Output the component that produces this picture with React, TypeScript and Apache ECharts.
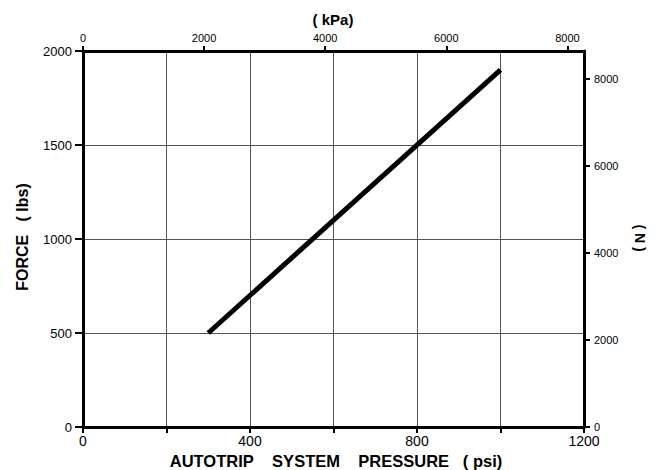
import React, { useEffect, useRef } from "react";
import * as echarts from "echarts";

// Data
const pressurePsi = [300, 1000];
const forceLbs = [500, 1900];

const psiRange = [0, 1200];
const psiTickStep = 200;
const psiLabelStep = 400;
const forceRange = [0, 2000];
const forceTickStep = 500;
const kpaRange = [0, 8274];
const kpaTickStep = 2000;
const newtonRange = [0, 8640];
const newtonTickStep = 2000;

const FONT = "'Liberation Sans', Arial, sans-serif";
const SP = "\u00A0";

export default function App() {
  const ref = useRef<HTMLDivElement>(null);
  useEffect(() => {
    if (!ref.current) return;
    const chart = echarts.init(ref.current, null, { renderer: "svg" });
    const axisLine = { show: true, onZero: false, lineStyle: { color: "#000", width: 3 } };
    const tick = { show: true, length: 6, lineStyle: { color: "#000", width: 2 } };
    chart.setOption({
      animation: false,
      backgroundColor: "#fff",
      grid: { left: 83, top: 51, right: 71, bottom: 43, containLabel: false },
      xAxis: [
        {
          type: "value",
          position: "bottom",
          min: psiRange[0],
          max: psiRange[1],
          interval: psiTickStep,
          axisLine,
          axisTick: tick,
          splitLine: { show: true, lineStyle: { color: "#555", width: 1 } },
          axisLabel: {
            margin: 7,
            fontFamily: FONT,
            fontSize: 14,
            color: "#000",
            formatter: (v: number) => (v % psiLabelStep === 0 ? String(v) : ""),
          },
        },
        {
          type: "value",
          position: "top",
          min: kpaRange[0],
          max: kpaRange[1],
          interval: kpaTickStep,
          axisLine,
          axisTick: { ...tick, length: 5 },
          splitLine: { show: false },
          axisLabel: {
            margin: 8,
            fontFamily: FONT,
            fontSize: 11,
            color: "#000",
            showMaxLabel: false,
            formatter: (v: number) => (v % kpaTickStep === 0 ? String(v) : ""),
          },
        },
      ],
      yAxis: [
        {
          type: "value",
          position: "left",
          min: forceRange[0],
          max: forceRange[1],
          interval: forceTickStep,
          axisLine,
          axisTick: { ...tick, length: 8 },
          splitLine: { show: true, lineStyle: { color: "#555", width: 1 } },
          axisLabel: {
            margin: 11,
            fontFamily: FONT,
            fontSize: 13,
            color: "#000",
            formatter: (v: number) => String(v),
          },
        },
        {
          type: "value",
          position: "right",
          min: newtonRange[0],
          max: newtonRange[1],
          interval: newtonTickStep,
          axisLine,
          axisTick: tick,
          splitLine: { show: false },
          axisLabel: {
            margin: 10,
            fontFamily: FONT,
            fontSize: 11,
            color: "#000",
            showMaxLabel: false,
            formatter: (v: number) => (v % newtonTickStep === 0 ? String(v) : ""),
          },
        },
      ],
      series: [
        {
          type: "line",
          xAxisIndex: 0,
          yAxisIndex: 0,
          data: pressurePsi.map((p, i) => [p, forceLbs[i]]),
          symbol: "none",
          lineStyle: { color: "#000", width: 5, cap: "butt" },
        },
      ],
      graphic: [
        {
          type: "text",
          x: 336,
          y: 461,
          style: {
            text: `AUTOTRIP${SP}${SP}${SP} SYSTEM${SP}${SP}${SP} PRESSURE${SP}${SP} (${SP}psi)`,
            font: `bold 16.5px ${FONT}`,
            fill: "#000",
            align: "center",
            verticalAlign: "middle",
          },
        },
        {
          type: "text",
          x: 22,
          y: 237,
          rotation: Math.PI / 2,
          style: {
            text: `FORCE${SP}${SP} (${SP}lbs)`,
            font: `bold 16px ${FONT}`,
            fill: "#000",
            align: "center",
            verticalAlign: "middle",
          },
        },
        {
          type: "text",
          x: 333,
          y: 19,
          style: {
            text: `(${SP}kPa)`,
            font: `bold 15px ${FONT}`,
            fill: "#000",
            align: "center",
            verticalAlign: "middle",
          },
        },
        {
          type: "text",
          x: 640,
          y: 238,
          rotation: -Math.PI / 2,
          style: {
            text: `(${SP}N${SP})`,
            font: `bold 14px ${FONT}`,
            fill: "#000",
            align: "center",
            verticalAlign: "middle",
          },
        },
      ],
    });
    return () => chart.dispose();
  }, []);
  return (
    <div
      ref={ref}
      style={{ position: "fixed", left: 0, top: 0, width: 655, height: 470 }}
    />
  );
}
